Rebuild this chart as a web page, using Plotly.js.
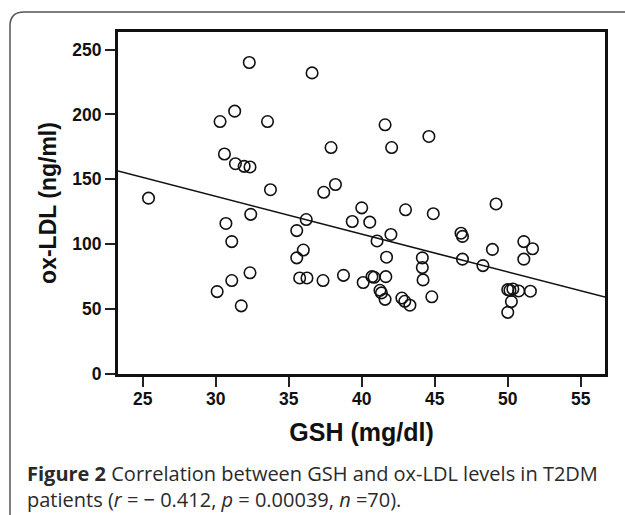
<!DOCTYPE html>
<html>
<head>
<meta charset="utf-8">
<script src="https://cdn.plot.ly/plotly-3.0.1.min.js"></script>
<style>
  html, body { margin: 0; padding: 0; background: #fff; }
  #chart { width: 625px; height: 515px; }
</style>
</head>
<body>
<div id="chart"></div>
<script>
// GSH (mg/dl) values
const gsh = [
  25.4, 32.3, 36.6, 31.3, 30.3, 33.55, 41.6, 44.6, 37.9, 42.05,
  30.6, 31.35, 31.95, 32.35, 33.75, 38.2, 37.4, 49.2, 40.0, 43.0,
  44.9, 32.4, 36.2, 39.35, 40.55, 30.7, 35.55, 42.0, 46.8, 46.9,
  41.05, 31.1, 51.1, 51.7, 48.95, 36.0, 41.7, 35.55, 44.15, 46.9,
  51.1, 48.3, 44.15, 32.35, 38.75, 40.7, 40.85, 41.65, 35.75, 36.25,
  44.2, 31.1, 37.35, 40.1, 30.1, 41.25, 41.35, 50.0, 50.35, 50.75,
  51.55, 42.75, 44.8, 41.6, 42.95, 43.3, 31.75, 50.25, 50.0, 50.15
];
// ox-LDL (ng/ml) values
const oxldl = [
  135.5, 240, 232, 202.5, 194.5, 194.5, 192, 183, 174.5, 174.5,
  169.5, 162, 160, 159.5, 142, 146, 140, 131, 128, 126.5,
  123.5, 123, 119, 117.5, 117, 116, 110.5, 107.5, 108.5, 106,
  102.5, 102, 102, 96.5, 96, 95.5, 90, 89.5, 89.5, 88.5,
  88.5, 83.5, 82, 78, 76, 75, 74.5, 75, 74, 74,
  72.5, 72, 72, 70.5, 63.5, 64.5, 62.5, 65, 65.5, 64,
  63.8, 58.5, 59.5, 57.5, 56, 53, 52.5, 55.8, 47.5, 64.5
];
// Fit line: y = intercept + slope * x
const fitIntercept = 224.3;
const fitSlope = -2.913;

const xTickVals = [25, 30, 35, 40, 45, 50, 55];
const yTickVals = [0, 50, 100, 150, 200, 250];
const xRange = [23.31, 56.66];
const yRange = [0, 263.5];

const captionLine1 = '<b>Figure 2</b> Correlation between GSH and ox-LDL levels in T2DM';
const captionLine2 = 'patients (<i>r</i> = − 0.412, <i>p</i> = 0.00039, <i>n</i> =70).';

// layout geometry helpers (pixel -> paper)
const W = 625, H = 515;
const M = { l: 118, r: 20, t: 32, b: 141 };
const pw = W - M.l - M.r, ph = H - M.t - M.b;
const px = v => (v - M.l) / pw;
const py = v => (H - M.b - v) / ph;

const fitX = xRange.slice();
const fitY = fitX.map(x => fitIntercept + fitSlope * x);

const axisFont = { family: 'Liberation Sans, Arial, sans-serif', size: 17.5, color: '#111', weight: 'bold' };

const traces = [
  {
    type: 'scatter', mode: 'lines', x: fitX, y: fitY,
    line: { color: '#111', width: 1.6 }, hoverinfo: 'skip', showlegend: false
  },
  {
    type: 'scatter', mode: 'markers', x: gsh, y: oxldl,
    marker: { symbol: 'circle-open', size: 11.5, color: '#111', line: { width: 1.6, color: '#111' } },
    showlegend: false
  }
];

const border = 'M ' + px(10) + ',' + py(515) +
  ' L ' + px(10) + ',' + py(26) +
  ' Q ' + px(10) + ',' + py(12) + ' ' + px(24) + ',' + py(12) +
  ' L ' + px(626) + ',' + py(12);

const layout = {
  width: W, height: H,
  margin: M,
  paper_bgcolor: '#fff', plot_bgcolor: '#fff',
  showlegend: false,
  xaxis: {
    range: xRange, tickvals: xTickVals, ticktext: xTickVals.map(String),
    ticks: 'outside', ticklen: 10, tickwidth: 2, tickcolor: '#222',
    ticklabelstandoff: -3,
    showline: true, linewidth: 3, linecolor: '#111', mirror: true,
    showgrid: false, zeroline: false,
    tickfont: axisFont,
    title: { text: 'GSH (mg/dl)', font: { family: 'Liberation Sans, Arial, sans-serif', size: 25, color: '#111', weight: 'bold' }, standoff: 16 },
    automargin: false
  },
  yaxis: {
    range: yRange, tickvals: yTickVals, ticktext: yTickVals.map(String),
    ticks: 'outside', ticklen: 10, tickwidth: 2, tickcolor: '#222',
    showline: true, linewidth: 3, linecolor: '#111', mirror: true,
    showgrid: false, zeroline: false,
    tickfont: axisFont,
    title: { text: 'ox-LDL (ng/ml)', font: { family: 'Liberation Sans, Arial, sans-serif', size: 23, color: '#111', weight: 'bold' }, standoff: 10 },
    automargin: false
  },
  shapes: [
    { type: 'path', xref: 'paper', yref: 'paper', path: border, line: { color: '#555', width: 1.5 } }
  ],
  annotations: [
    { xref: 'paper', yref: 'paper', x: px(25), y: py(486), xanchor: 'left', yanchor: 'middle',
      text: captionLine1 + '<br>' + captionLine2, showarrow: false, align: 'left',
      font: { family: 'Open Sans, Noto Sans, sans-serif', size: 20, color: '#2a2a2a' } }
  ]
};

Plotly.newPlot('chart', traces, layout, { displayModeBar: false, staticPlot: true });
</script>
</body>
</html>
